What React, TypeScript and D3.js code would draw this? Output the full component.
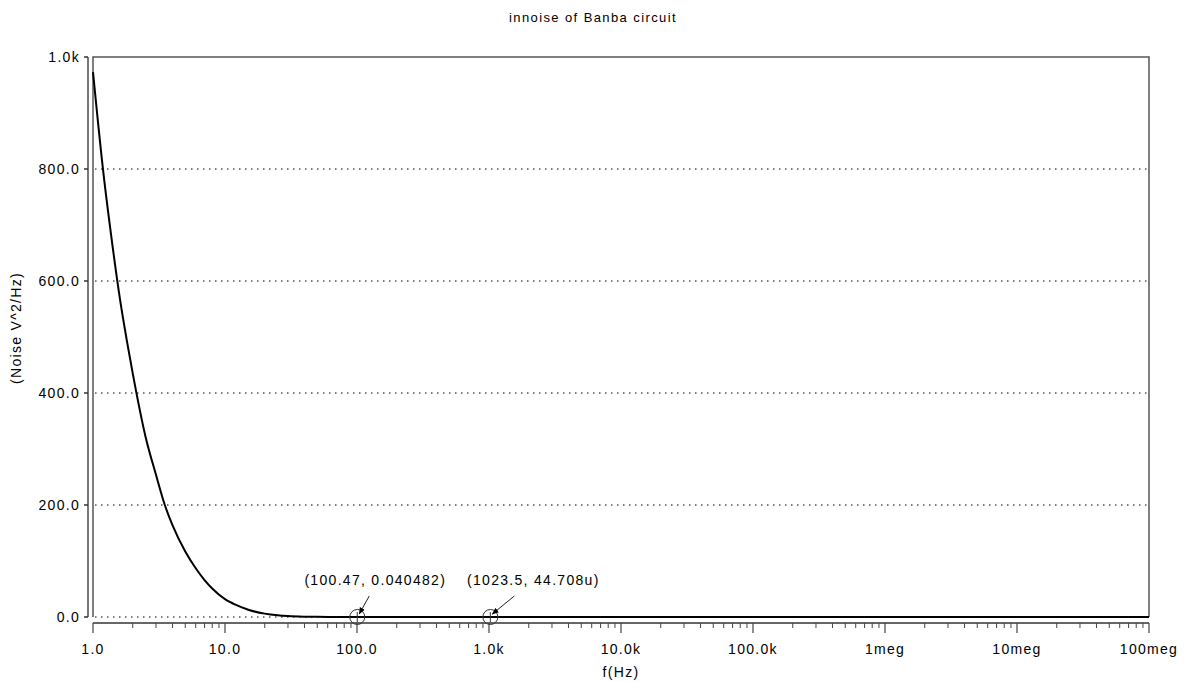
import React from "react";
import * as d3 from "d3";

const freq = [1, 1.2, 1.4, 1.6, 1.8, 2, 2.5, 3, 3.5, 4, 5, 6, 7, 8, 10, 12, 15, 20, 25, 30, 40, 50, 70, 100.47, 200, 500, 1023.5, 1e4, 1e5, 1e6, 1e7, 1e8];
const noise = [973, 792, 666, 568, 495, 435, 322, 254, 200, 164, 117, 87, 66, 51, 32, 22, 13, 6, 3, 1.6, 0.6, 0.3, 0.1, 0.040482, 0.006, 0.0005, 44.708e-6, 5e-7, 5e-9, 5e-11, 5e-13, 5e-15];

const yTicks = [0, 200, 400, 600, 800, 1000];
const yTickLabels = ["0.0", "200.0", "400.0", "600.0", "800.0", "1.0k"];
const xTicks = [1, 10, 100, 1e3, 1e4, 1e5, 1e6, 1e7, 1e8];
const xTickLabels = ["1.0", "10.0", "100.0", "1.0k", "10.0k", "100.0k", "1meg", "10meg", "100meg"];

const markerF = [100.47, 1023.5];
const markerV = [0.040482, 44.708e-6];
const markerLabels = ["(100.47, 0.040482)", "(1023.5, 44.708u)"];

const title = "innoise of Banba circuit";
const xTitle = "f(Hz)";
const yTitle = "(Noise V^2/Hz)";

const FONT = "'Liberation Sans', Arial, Helvetica, sans-serif";

export default function App() {
  const W = 1192, H = 682;
  const left = 93, right = 1149, top = 57, bottom = 617;
  const x = d3.scaleLog().domain([1, 1e8]).range([left, right]);
  const y = d3.scaleLinear().domain([0, 1000]).range([bottom, top]);
  const pts: [number, number][] = freq.map((f, i) => [f, noise[i]]);
  const line = d3.line<[number, number]>().x(d => x(d[0])).y(d => y(d[1])).curve(d3.curveMonotoneX);

  const minorTicks: number[] = [];
  for (let e = 0; e < 8; e++) {
    for (let k = 2; k <= 9; k++) minorTicks.push(k * Math.pow(10, e));
  }
  const axisY = 623;

  return (
    <svg width={W} height={H} style={{ position: "absolute", left: 0, top: 0, background: "#fff" }} fontFamily={FONT}>
      <defs>
        <marker id="arr" viewBox="0 0 10 10" refX="9" refY="5" markerWidth="7" markerHeight="7" orient="auto-start-reverse">
          <path d="M0,1 L10,5 L0,9 z" fill="#000" />
        </marker>
      </defs>
      <rect x={0} y={0} width={W} height={H} fill="#fff" />
      <text x={593} y={22} textAnchor="middle" fontSize={13} letterSpacing={1.4} fill="#000">{title}</text>

      {/* grid */}
      {yTicks.slice(0, 5).map(t => (
        <line key={t} x1={left + 2} x2={right} y1={y(t)} y2={y(t)} stroke="#000" strokeWidth={1} strokeDasharray="1.5 4.5" />
      ))}

      {/* frame */}
      <path d={`M${left},${bottom} L${left},${top} L${right},${top} L${right},${bottom}`} fill="none" stroke="#555" strokeWidth={1.5} />

      {/* y axis */}
      <line x1={88} x2={88} y1={top} y2={bottom} stroke="#777" strokeWidth={2} />
      {yTicks.map((t, i) => (
        <g key={t}>
          <line x1={84} x2={88} y1={y(t)} y2={y(t)} stroke="#333" strokeWidth={1.5} />
          <text x={80} y={y(t) + 5} textAnchor="end" fontSize={14} letterSpacing={1.3} fill="#000">{yTickLabels[i]}</text>
        </g>
      ))}
      <text transform={`translate(21,328) rotate(-90)`} textAnchor="middle" fontSize={14} letterSpacing={1.3} fill="#000">{yTitle}</text>

      {/* x axis */}
      <line x1={left} x2={right} y1={axisY} y2={axisY} stroke="#333" strokeWidth={1.5} />
      {minorTicks.map(t => (
        <line key={t} x1={x(t)} x2={x(t)} y1={axisY} y2={axisY + 5} stroke="#444" strokeWidth={1} />
      ))}
      {xTicks.map((t, i) => (
        <g key={t}>
          <line x1={x(t)} x2={x(t)} y1={axisY} y2={axisY + 10} stroke="#444" strokeWidth={1.2} />
          <text x={x(t)} y={654} textAnchor="middle" fontSize={14} letterSpacing={1.3} fill="#000">{xTickLabels[i]}</text>
        </g>
      ))}
      <text x={(left + right) / 2} y={677} textAnchor="middle" fontSize={14} letterSpacing={1.3} fill="#000">{xTitle}</text>

      {/* data */}
      <path d={line(pts) || ""} fill="none" stroke="#000" strokeWidth={2} />

      {/* markers */}
      {markerF.map((f, i) => {
        const cx = x(f);
        const cy = y(markerV[i]);
        return (
          <g key={f}>
            <circle cx={cx} cy={cy} r={7.5} fill="none" stroke="#333" strokeWidth={1} />
            <line x1={cx} x2={cx} y1={cy - 5} y2={cy + 5} stroke="#333" strokeWidth={1} />
            <line x1={cx + 12 + i * 12} y1={cy - 21} x2={cx + 2} y2={cy - 3} stroke="#222" strokeWidth={1} markerEnd="url(#arr)" />
            <text x={cx + (i === 0 ? 18 : 43)} y={cy - 32} textAnchor="middle" fontSize={14} letterSpacing={1.3} fill="#000">{markerLabels[i]}</text>
          </g>
        );
      })}
    </svg>
  );
}
